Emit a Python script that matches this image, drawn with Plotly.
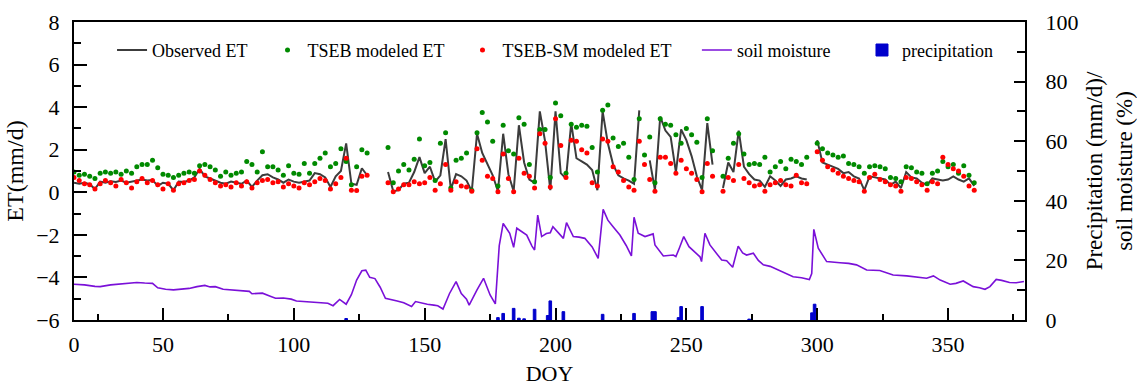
import plotly.graph_objects as go

# ---------------- data ----------------
doy_et = list(range(16, 361, 2))
N = None
et_observed = [
    0.45, 0.40, 0.45, 0.38, 0.15, 0.50, 0.45, 0.52, 0.48, 0.55,
    0.45, 0.50, 0.58, 0.60, 0.55, 0.58, 0.30, 0.45, 0.40, 0.10,
    0.50, 0.48, 0.55, 0.70, 1.10, 0.75, 0.65, 0.55, 0.45, 0.40,
    0.50, 0.45, 0.40, 0.55, 0.25, 0.55, 0.80, 0.85, 0.70, 0.60,
    0.45, 0.60, 0.50, 0.45, 0.50, 0.55, 0.90, 0.85, 0.70, 0.25,
    0.75, 1.00, 2.30, 0.40, 0.35, 1.13, 0.80, N, N, N,
    0.95, 0.05, 0.10, 0.40, 0.45, 0.95, 1.65, 0.90, 1.20, 0.50,
    0.80, 2.50, 0.15, 0.85, 0.75, 0.55, 0.05, 2.75, 1.85, 1.30,
    0.80, 0.05, 2.75, 0.85, 0.05, 3.15, 1.40, 0.60, 0.45, 3.80,
    2.40, 0.10, 3.80, 0.90, 0.65, 3.25, 1.60, 1.45, 1.30, 1.05,
    0.10, 3.80, 2.30, 1.30, 0.80, 0.65, 0.55, 0.40, 3.85, N,
    1.50, 0.10, 3.55, 2.90, 2.60, 0.95, 2.95, 2.45, 1.70, 0.75,
    0.10, 3.25, 1.30, N, 0.20, 1.40, 0.95, 2.90, 1.20, 0.85,
    0.60, 0.55, 0.25, 0.75, 0.55, 0.30, 0.60, 0.65, 0.75, 0.65,
    0.60, N, 2.45, 1.40, 1.30, 1.20, 1.10, 0.90, 0.95, 0.75,
    0.65, 0.10, 0.75, 0.70, 0.65, 0.60, 0.35, 0.50, 0.20, 0.95,
    0.70, 0.65, 0.45, 0.35, 0.65, 0.60, 0.55, 0.60, 0.75, 0.60,
    0.50, 0.65, 0.30,
]
et_tseb = [
    0.95, 0.80, 0.85, 0.75, 0.65, 0.90, 0.95, 0.90, 0.95, 0.85,
    1.00, 0.90, 1.20, 1.30, 1.30, 1.50, 1.15, 0.85, 0.80, 0.70,
    0.80, 0.90, 0.95, 0.90, 1.25, 1.30, 1.20, 1.05, 0.75, 0.95,
    0.80, 0.90, 0.95, 1.45, 1.30, 0.95, 1.90, 1.20, 1.20, 1.05,
    0.80, 1.25, 0.90, 0.85, 1.35, 0.90, 1.35, 1.60, 1.85, 1.20,
    1.35, 2.05, 1.45, 0.35, 1.20, 2.00, 1.85, N, N, N,
    2.10, 0.45, 1.00, 1.30, 1.05, 1.55, 2.50, 1.25, 1.40, 0.55,
    2.30, 2.80, 0.20, 1.50, 1.60, 1.85, 0.10, 2.80, 3.75, 3.30,
    2.40, 0.30, 3.15, 1.95, 1.80, 3.50, 3.20, 1.30, 0.50, 2.95,
    2.95, 0.70, 4.20, 3.60, 0.90, 3.20, 3.05, 3.15, 3.10, 2.10,
    0.95, 3.85, 4.10, 2.55, 2.15, 2.30, 1.65, 0.60, 3.45, 1.75,
    2.60, 0.45, 3.45, 3.20, 3.15, 2.70, 2.30, 3.00, 2.70, 2.35,
    0.70, 3.45, 1.95, N, 0.75, 1.60, 2.30, 2.75, 1.80, 1.30,
    1.35, 1.30, 1.65, 0.95, 1.20, 1.45, 1.10, 1.55, 1.45, 1.30,
    1.65, N, 2.30, 2.05, 1.85, 1.75, 1.65, 1.70, 1.35, 1.30,
    1.20, 0.90, 1.20, 1.25, 1.20, 1.10, 0.70, 0.65, 0.50, 1.20,
    1.15, 0.95, 0.90, 0.40, 0.90, 1.00, 1.45, 1.20, 1.30, 0.90,
    1.25, 0.80, 0.45,
]
et_tseb_sm = [
    0.70, 0.55, 0.40, 0.35, 0.15, 0.40, 0.55, 0.45, 0.30, 0.60,
    0.45, 0.20, 0.50, 0.65, 0.45, 0.55, 0.35, 0.15, 0.40, 0.10,
    0.40, 0.45, 0.55, 0.60, 1.00, 0.80, 0.60, 0.45, 0.30, 0.35,
    0.25, 0.45, 0.30, 0.50, 0.20, 0.45, 0.55, 0.60, 0.45, 0.50,
    0.25, 0.40, 0.30, 0.20, 0.45, 0.35, 0.50, 0.65, 0.55, 0.15,
    0.40, 0.70, 1.60, 0.10, 0.08, 0.75, 0.80, N, N, N,
    0.45, 0.03, 0.15, 0.35, 0.35, 0.50, 0.40, 0.45, 0.70, 0.10,
    0.40, 1.30, 0.10, 0.50, 0.30, 0.25, 0.05, 2.05, 1.50, 0.75,
    0.65, 0.02, 1.80, 0.65, 0.03, 1.60, 0.90, 0.75, 0.20, 2.75,
    2.30, 0.25, 3.45, 2.20, 0.70, 2.45, 2.40, 2.00, 1.85, 0.45,
    0.30, 2.50, 2.40, 1.20, 0.95, 0.55, 0.25, 0.10, 2.40, 1.30,
    0.60, 0.05, 1.65, 1.65, 1.35, 0.90, 1.50, 1.10, 0.90, 0.60,
    0.02, 1.35, 0.75, N, 0.05, 0.70, 0.55, 1.30, 0.65, 0.45,
    0.30, 0.35, 0.05, 0.35, 0.45, 0.55, 0.35, 0.30, 0.80, 0.45,
    0.40, N, 1.90, 1.50, 1.20, 1.05, 0.90, 0.75, 0.65, 0.55,
    0.50, 0.05, 0.70, 0.85, 0.60, 0.50, 0.35, 0.30, 0.05, 0.70,
    0.65, 0.50, 0.35, 0.10, 0.50, 0.40, 1.65, 1.30, 1.10, 1.00,
    0.75, 0.30, 0.10,
]

sm_doy = [
    16, 20, 24, 26, 30, 33, 36, 40, 43, 46, 48, 51, 54, 57, 60, 63, 66, 68, 70, 73,
    77, 80, 83, 84, 88, 91, 93, 96, 99, 101, 105, 110, 113, 115, 117.5, 120, 122, 124,
    126, 127.5, 129, 131, 133, 135, 137, 139.5, 142, 145, 146.5, 149, 151, 153.5, 155,
    157, 159.5, 162, 164, 166, 167, 170, 172.5, 175, 177, 178.5, 180, 182.5, 184, 185.2,
    187, 189, 191, 192, 193.2, 194.7, 196.5, 198, 199, 201, 203, 204.2, 206.8, 209,
    211.2, 214, 216.3, 218.2, 220, 222, 224.6, 227, 229, 230, 231.6, 234.2, 236, 237.3,
    238, 241.2, 245, 246, 247.3, 249, 251, 253, 255.2, 255.8, 257.1, 259, 261, 263.5,
    265.4, 267.7, 269.8, 271.5, 273, 275.6, 277.5, 279.4, 282, 284.5, 287, 290.8, 294,
    297, 297.9, 298.7, 300.4, 303.6, 308.7, 312, 315, 318.9, 323.9, 326, 329, 334.2,
    338, 341.8, 344.4, 347, 350.8, 353, 355.8, 359.6, 362, 364.1, 366, 368.4, 370.5,
    373.5, 376, 379,
]
soil_moisture = [
    12.0, 11.8, 11.3, 11.2, 11.8, 12.0, 12.3, 12.6, 12.4, 12.3, 10.8, 10.3, 10.1, 10.4,
    10.6, 11.2, 11.6, 11.1, 11.2, 10.3,
    10.0, 9.8, 9.6, 8.8, 9.0, 8.0, 7.3, 7.4, 7.0, 6.4, 6.2, 5.8, 5.6, 4.8, 6.9, 5.3, 8.5, 13.4,
    16.5, 16.7, 14.3, 13.9, 11.0, 7.3, 7.0, 6.4, 5.8, 4.5, 6.2, 5.6, 5.3, 5.0, 4.8,
    3.7, 8.9, 12.9, 8.9, 7.0, 5.0, 10.1, 14.0, 8.4, 5.4, 25.0, 32.4, 29.1, 24.4, 30.8,
    29.8, 28.5, 24.8, 23.5, 35.2, 28.0, 29.0, 29.3, 31.3, 29.5, 27.4, 32.7, 28.0, 27.8,
    27.4, 24.5, 20.7, 37.1, 33.5, 31.3, 28.5, 25.0, 21.5, 34.5, 29.1, 28.0, 28.5, 28.9,
    25.2, 21.5, 21.8, 21.3, 24.1, 28.0, 24.6, 23.0, 21.2, 19.6, 29.1, 25.2, 23.0, 20.1,
    19.9, 17.7, 24.8, 22.5, 21.8, 22.4, 20.0, 18.5, 18.0, 17.0, 15.8, 14.5, 14.2,
    13.6, 15.6, 30.4, 24.1, 19.6, 19.2, 19.0, 18.5, 16.8, 16.6, 16.0, 15.1, 14.8,
    14.5, 14.0, 14.8, 13.4, 12.0, 12.3, 13.1, 11.2, 10.8, 10.3, 11.2, 13.6, 13.3,
    12.6, 12.5, 12.9,
]

precip_doy = [120, 178, 180, 184, 186, 188, 192, 197, 198, 203, 218, 230, 237, 238,
              247, 248, 256, 274, 298, 299]
precipitation = [0.5, 0.8, 2.2, 3.9, 0.6, 0.4, 3.6, 1.5, 6.4, 2.8, 1.9, 2.2, 2.8, 2.8,
                 0.8, 4.5, 4.5, 0.3, 2.4, 5.3]

x_tick_vals = [16, 50, 100, 150, 200, 250, 300, 350]
x_tick_text = ["0", "50", "100", "150", "200", "250", "300", "350"]
x_minor_vals = [25, 75, 125, 175, 225, 275, 325, 375]

# ---------------- figure ----------------
FONT = "Liberation Serif"
fig = go.Figure()

fig.add_trace(go.Scatter(x=doy_et, y=et_observed, mode="lines", name="Observed ET",
                         line=dict(color="#3c3c3c", width=2), connectgaps=False,
                         legend="legend", showlegend=True))
fig.add_trace(go.Scatter(x=doy_et, y=et_tseb, mode="markers", name="TSEB modeled ET",
                         marker=dict(color="#008a00", size=5), legend="legend2"))
fig.add_trace(go.Scatter(x=doy_et, y=et_tseb_sm, mode="markers", name="TSEB-SM modeled ET",
                         marker=dict(color="#ff0000", size=5), legend="legend3"))
fig.add_trace(go.Scatter(x=sm_doy, y=soil_moisture, mode="lines", name="soil moisture",
                         line=dict(color="#7a10d8", width=1.6), yaxis="y2",
                         legend="legend4"))
fig.add_trace(go.Bar(x=precip_doy, y=precipitation, width=1.0, name="precipitation",
                     marker=dict(color="#0000cc", line=dict(color="#0000cc", width=1)),
                     yaxis="y2", legend="legend5"))

axis_common = dict(showline=True, linewidth=2, linecolor="black", showgrid=False,
                   zeroline=False, ticks="inside", tickwidth=2, tickcolor="black",
                   automargin=False,
                   tickfont=dict(family=FONT, size=22, color="black"))

leg_common = dict(orientation="h", yanchor="middle", y=0.905, xanchor="left",
                  bgcolor="rgba(0,0,0,0)", borderwidth=0, visible=True,
                  font=dict(family=FONT, size=18, color="black"))

fig.update_layout(
    width=1137, height=386,
    margin=dict(l=74, r=112, t=22, b=66, autoexpand=False),
    paper_bgcolor="white", plot_bgcolor="white",
    font=dict(family=FONT, size=22, color="black"),
    barmode="overlay",
    showlegend=True,
    xaxis=dict(**axis_common, range=[16, 379.4], mirror=True,
               tickmode="array", tickvals=x_tick_vals, ticktext=x_tick_text,
               ticklen=12, ticklabelstandoff=4,
               minor=dict(tickmode="array", tickvals=x_minor_vals, ticks="inside",
                          ticklen=6, tickwidth=2, tickcolor="black"),
               title=dict(text="DOY", font=dict(family=FONT, size=22), standoff=9)),
    yaxis=dict(**axis_common, range=[-6, 8], tickmode="linear", tick0=-6, dtick=2,
               ticklen=13, ticklabelstandoff=8,
               minor=dict(dtick=1, ticks="inside", ticklen=7, tickwidth=2,
                          tickcolor="black"),
               title=dict(text="ET(mm/d)", font=dict(family=FONT, size=24), standoff=6)),
    yaxis2=dict(**axis_common, overlaying="y", side="right", range=[0, 100],
                tickmode="linear", tick0=0, dtick=20, ticklen=11, ticklabelstandoff=14,
                minor=dict(dtick=10, ticks="inside", ticklen=8, tickwidth=2,
                           tickcolor="black"),
                title=dict(text="Precipitation (mm/d)/<br>soil moisture (%)",
                           font=dict(family=FONT, size=23), standoff=14)),
    legend=dict(**leg_common, x=0.040),
    legend2=dict(**leg_common, x=0.2035),
    legend3=dict(**leg_common, x=0.4085),
    legend4=dict(**leg_common, x=0.655),
    legend5=dict(**leg_common, x=0.8286),
)

fig.write_html("out.html")
